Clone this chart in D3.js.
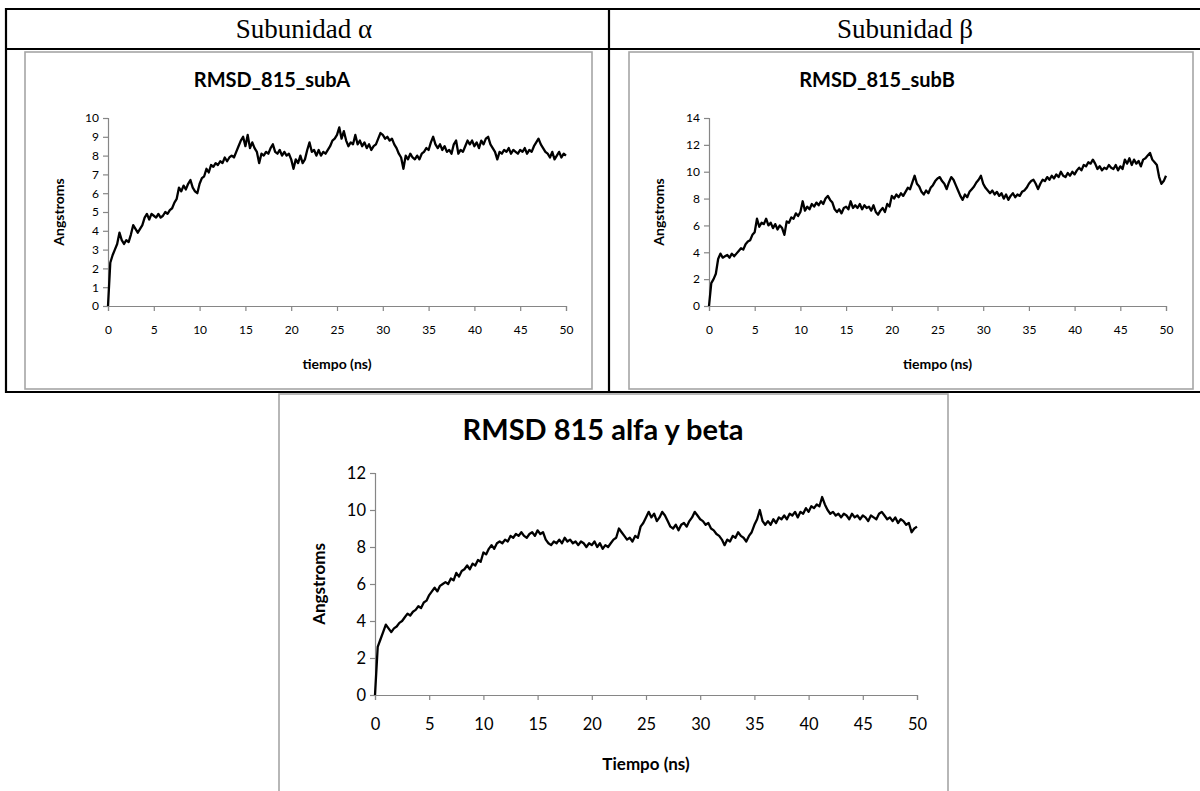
<!DOCTYPE html>
<html>
<head>
<meta charset="utf-8">
<script src="https://cdn.jsdelivr.net/npm/d3@7"></script>
<style>
  body { margin: 0; background: #fff; }
  svg { display: block; }
</style>
</head>
<body>
<div id="chart"></div>
<script>
// RMSD curves, one value every 0.25 ns (0 .. 50 ns)
const timeNs = d3.range(0, 50.001, 0.25);

const rmsdSubA = [
  0, 2.3, 2.7, 3.0, 3.3, 3.9, 3.5, 3.3, 3.5, 3.4, 3.8, 4.3, 4.1, 3.9, 4.1, 4.3, 4.7, 4.9, 4.6, 4.9,
  4.8, 4.7, 4.9, 4.7, 4.8, 5.0, 4.9, 5.1, 5.2, 5.5, 5.7, 6.3, 6.1, 6.4, 6.2, 6.5, 6.7, 6.3, 6.1, 6.0,
  6.5, 6.8, 6.9, 7.3, 7.1, 7.5, 7.4, 7.6, 7.5, 7.7, 7.6, 7.9, 7.7, 7.9, 8.0, 7.9, 8.2, 8.5, 8.8, 9.0,
  8.5, 9.1, 8.4, 8.7, 8.4, 8.2, 7.6, 8.1, 8.0, 8.2, 8.1, 8.4, 8.6, 8.2, 8.1, 8.3, 8.0, 8.2, 8.0, 8.1,
  7.8, 7.3, 7.8, 7.6, 8.0, 7.6, 7.8, 8.3, 8.7, 8.2, 8.3, 8.0, 8.3, 8.0, 8.2, 8.1, 8.3, 8.5, 8.8, 8.9,
  9.1, 9.5, 8.9, 9.3, 8.8, 8.5, 8.7, 8.6, 9.1, 8.6, 8.8, 8.5, 8.7, 8.4, 8.6, 8.3, 8.5, 8.6, 8.9, 9.2,
  9.1, 8.9, 9.0, 8.8, 8.9, 8.6, 8.4, 8.1, 7.9, 7.3, 8.0, 7.8, 8.1, 7.9, 7.8, 8.0, 7.8, 8.1, 8.2, 8.4,
  8.3, 8.7, 9.0, 8.6, 8.4, 8.6, 8.3, 8.5, 8.2, 8.3, 8.1, 8.6, 8.8, 8.1, 8.3, 8.2, 8.5, 8.8, 8.6, 8.8,
  8.5, 8.7, 8.4, 8.8, 8.6, 8.9, 9.0, 8.6, 8.4, 8.2, 7.8, 8.2, 8.1, 8.3, 8.2, 8.4, 8.1, 8.3, 8.2, 8.1,
  8.3, 8.2, 8.4, 8.1, 8.3, 8.2, 8.5, 8.7, 8.9, 8.6, 8.4, 8.2, 8.1, 7.9, 8.2, 7.8, 8.0, 8.2, 7.9, 8.1,
  8.0
];

const rmsdSubB = [
  0, 1.7, 2.0, 2.4, 3.5, 3.9, 3.6, 3.7, 3.8, 3.6, 3.9, 3.7, 3.9, 4.1, 4.3, 4.2, 4.6, 4.8, 4.9, 5.3,
  5.5, 6.5, 5.9, 6.2, 6.1, 6.5, 6.0, 6.2, 5.8, 6.1, 5.7, 6.0, 5.8, 5.3, 6.3, 6.2, 6.6, 6.5, 6.9, 6.7,
  7.0, 7.8, 7.1, 7.4, 7.2, 7.6, 7.4, 7.7, 7.5, 7.8, 7.6, 8.0, 8.2, 7.9, 7.7, 7.2, 7.0, 7.2, 6.9, 7.3,
  7.4, 7.2, 7.8, 7.3, 7.5, 7.3, 7.6, 7.2, 7.5, 7.3, 7.4, 7.1, 7.5, 7.0, 6.8, 7.1, 7.3, 7.0, 7.6, 7.4,
  8.2, 8.0, 8.3, 8.1, 8.4, 8.2, 8.5, 8.8, 8.7, 9.2, 9.7, 9.1, 8.9, 8.5, 8.3, 8.6, 8.4, 8.8, 9.0, 9.3,
  9.5, 9.6, 9.3, 9.1, 8.7, 9.2, 9.6, 9.4, 9.0, 8.6, 8.2, 7.9, 8.3, 8.1, 8.5, 8.7, 8.9, 9.2, 9.4, 9.7,
  9.1, 8.8, 8.6, 8.4, 8.6, 8.3, 8.5, 8.2, 8.4, 8.0, 8.3, 7.9, 8.2, 8.4, 8.1, 8.3, 8.2, 8.5, 8.6, 8.8,
  9.1, 9.3, 9.4, 9.1, 8.7, 9.1, 9.4, 9.3, 9.6, 9.4, 9.7, 9.5, 9.8, 9.6, 10.0, 9.7, 9.6, 9.9, 9.7, 10.0,
  9.8, 10.1, 10.3, 10.1, 10.5, 10.4, 10.7, 10.6, 10.9, 10.6, 10.2, 10.4, 10.1, 10.3, 10.2, 10.5, 10.3, 10.2, 10.5, 10.1,
  10.4, 10.2, 10.9, 10.6, 11.0, 10.5, 10.9, 10.6, 10.8, 10.4, 10.9, 11.0, 11.2, 11.4, 10.9, 10.7, 10.5, 9.6, 9.1, 9.3,
  9.7
];

const rmsdAlfaBeta = [
  0, 2.6, 3.0, 3.4, 3.8, 3.6, 3.4, 3.6, 3.7, 3.9, 4.0, 4.2, 4.4, 4.3, 4.5, 4.6, 4.8, 4.7, 5.0, 5.1,
  5.4, 5.6, 5.8, 5.6, 5.9, 6.0, 6.1, 6.0, 6.3, 6.2, 6.6, 6.4, 6.7, 6.8, 7.0, 6.8, 7.1, 7.0, 7.3, 7.2,
  7.7, 7.6, 7.9, 8.1, 7.9, 8.2, 8.3, 8.2, 8.4, 8.3, 8.6, 8.5, 8.7, 8.6, 8.8, 8.6, 8.5, 8.7, 8.8, 8.6,
  8.9, 8.7, 8.8, 8.4, 8.2, 8.1, 8.3, 8.2, 8.4, 8.2, 8.5, 8.3, 8.4, 8.2, 8.3, 8.1, 8.3, 8.2, 8.0, 8.2,
  8.1, 8.3, 8.0, 8.2, 7.9, 8.1, 8.0, 8.2, 8.4, 8.5, 9.0, 8.8, 8.6, 8.4, 8.5, 8.3, 8.6, 8.5, 9.1, 9.3,
  9.6, 9.9, 9.6, 9.8, 9.4, 9.6, 9.9, 9.7, 9.4, 9.1, 9.0, 9.2, 8.9, 9.2, 9.3, 9.1, 9.4, 9.6, 9.9, 9.7,
  9.5, 9.4, 9.2, 9.3, 9.0, 8.9, 8.7, 8.6, 8.4, 8.1, 8.4, 8.3, 8.6, 8.5, 8.8, 8.6, 8.5, 8.3, 8.6, 8.8,
  9.2, 9.5, 10.0, 9.4, 9.2, 9.4, 9.2, 9.5, 9.3, 9.6, 9.5, 9.7, 9.5, 9.8, 9.7, 9.9, 9.6, 9.9, 9.8, 10.1,
  9.9, 10.2, 10.1, 10.3, 10.2, 10.7, 10.3, 10.0, 9.8, 9.9, 9.7, 9.8, 9.6, 9.8, 9.7, 9.5, 9.8, 9.6, 9.7, 9.5,
  9.7, 9.6, 9.4, 9.7, 9.6, 9.5, 9.8, 9.9, 9.7, 9.5, 9.6, 9.4, 9.6, 9.3, 9.5, 9.4, 9.2, 9.3, 8.8, 9.0,
  9.1
];

const xTicks = [0, 5, 10, 15, 20, 25, 30, 35, 40, 45, 50];
const yTicksA = [0, 1, 2, 3, 4, 5, 6, 7, 8, 9, 10];
const yTicksB = [0, 2, 4, 6, 8, 10, 12, 14];
const yTicksAB = [0, 2, 4, 6, 8, 10, 12];

const headerLabels = ["Subunidad \u03b1", "Subunidad \u03b2"];

const width = 1200;
const height = 791;
const sansFont = "Lato, 'Open Sans', sans-serif";

const svg = d3.select("#chart")
  .append("svg")
  .attr("width", width)
  .attr("height", height)
  .style("background", "#fff");

// Word table around the two upper charts
const table = svg.append("g")
  .attr("stroke", "#000")
  .attr("stroke-width", 2.2);
table.append("line").attr("x1", 6).attr("x2", 1200).attr("y1", 9).attr("y2", 9);
table.append("line").attr("x1", 6).attr("x2", 1200).attr("y1", 49).attr("y2", 49);
table.append("line").attr("x1", 6).attr("x2", 6).attr("y1", 8).attr("y2", 393);
table.append("line").attr("x1", 609).attr("x2", 609).attr("y1", 8).attr("y2", 393);

svg.selectAll(".header")
  .data(headerLabels)
  .enter()
  .append("text")
  .attr("class", "header")
  .attr("x", (d, i) => i === 0 ? 304 : 905)
  .attr("y", 38)
  .attr("text-anchor", "middle")
  .attr("font-family", "'Liberation Serif', 'Times New Roman', serif")
  .attr("font-size", 27)
  .attr("fill", "#000")
  .text(d => d);

// One Excel-style line chart
function drawChart(cfg) {
  const g = svg.append("g");

  g.append("rect")
    .attr("x", cfg.frame[0])
    .attr("y", cfg.frame[1])
    .attr("width", cfg.frame[2] - cfg.frame[0])
    .attr("height", cfg.frame[3] - cfg.frame[1])
    .attr("fill", "#fff")
    .attr("stroke", "#a6a6a6")
    .attr("stroke-width", 1.6);

  const x = d3.scaleLinear().domain([0, 50]).range([cfg.plot[0], cfg.plot[2]]);
  const y = d3.scaleLinear().domain([0, cfg.yMax]).range([cfg.plot[3], cfg.plot[1]]);

  g.append("text")
    .attr("x", cfg.titleX)
    .attr("y", cfg.titleY)
    .attr("text-anchor", "middle")
    .attr("font-family", sansFont)
    .attr("font-weight", "bold")
    .attr("font-size", cfg.titleSize)
    .attr("fill", "#000")
    .text(cfg.title);

  const yAxis = g.append("g")
    .attr("transform", `translate(${cfg.plot[0]},0)`)
    .call(d3.axisLeft(y).tickValues(cfg.yTicks).tickSizeOuter(0).tickSize(5).tickPadding(4));

  const xAxis = g.append("g")
    .attr("transform", `translate(0,${cfg.plot[3]})`)
    .call(d3.axisBottom(x).tickValues(xTicks).tickSizeOuter(0).tickSize(5).tickPadding(cfg.xPad));

  [xAxis, yAxis].forEach(a => {
    a.select(".domain").attr("stroke", "#868686").attr("stroke-width", 1.2);
    a.selectAll(".tick line").attr("stroke", "#868686").attr("stroke-width", 1.2);
    a.selectAll(".tick text")
      .attr("fill", "#000")
      .attr("font-family", sansFont)
      .attr("font-size", cfg.tickSize);
  });

  g.append("text")
    .attr("x", (cfg.plot[0] + cfg.plot[2]) / 2)
    .attr("y", cfg.xLabelY)
    .attr("text-anchor", "middle")
    .attr("dominant-baseline", "central")
    .attr("font-family", sansFont)
    .attr("font-weight", "bold")
    .attr("font-size", cfg.labelSize)
    .attr("fill", "#000")
    .text(cfg.xLabel);

  g.append("text")
    .attr("transform", `translate(${cfg.yLabelX},${(cfg.plot[1] + cfg.plot[3]) / 2}) rotate(-90)`)
    .attr("text-anchor", "middle")
    .attr("dominant-baseline", "central")
    .attr("font-family", sansFont)
    .attr("font-weight", "bold")
    .attr("font-size", cfg.labelSize)
    .attr("fill", "#000")
    .text("Angstroms");

  const line = d3.line()
    .x((d, i) => x(timeNs[i]))
    .y(d => y(d));

  g.append("path")
    .datum(cfg.values)
    .attr("fill", "none")
    .attr("stroke", "#000")
    .attr("stroke-width", 2.3)
    .attr("stroke-linejoin", "round")
    .attr("d", line);
}

drawChart({
  title: "RMSD_815_subA", values: rmsdSubA, yMax: 10, yTicks: yTicksA,
  frame: [25, 52, 592, 389], plot: [108, 118, 566, 306],
  titleX: 272, titleY: 87, titleSize: 20, tickSize: 12, labelSize: 14, xPad: 14,
  xLabel: "tiempo (ns)", xLabelY: 363, yLabelX: 58
});

drawChart({
  title: "RMSD_815_subB", values: rmsdSubB, yMax: 14, yTicks: yTicksB,
  frame: [629, 52, 1193, 389], plot: [709, 118, 1166, 306],
  titleX: 877, titleY: 87, titleSize: 20, tickSize: 12, labelSize: 14, xPad: 14,
  xLabel: "tiempo (ns)", xLabelY: 363, yLabelX: 658
});

drawChart({
  title: "RMSD 815 alfa y beta", values: rmsdAlfaBeta, yMax: 12, yTicks: yTicksAB,
  frame: [279, 394, 948, 820], plot: [375, 473, 917, 695],
  titleX: 603, titleY: 440, titleSize: 29, tickSize: 16.5, labelSize: 17, xPad: 18,
  xLabel: "Tiempo (ns)", xLabelY: 763, yLabelX: 318
});

// table bottom rule sits on top of the lower chart frame
svg.append("line")
  .attr("x1", 6).attr("x2", 1200).attr("y1", 392).attr("y2", 392)
  .attr("stroke", "#000").attr("stroke-width", 2.2);
</script>
</body>
</html>
